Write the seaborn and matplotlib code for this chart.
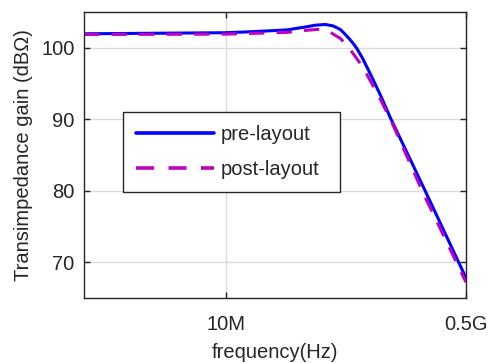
import matplotlib
matplotlib.use("Agg")
import matplotlib.pyplot as plt
import seaborn as sns
import pandas as pd
from matplotlib.lines import Line2D

# frequency in Hz, gain in dB-ohm
pre_freq = [1e6, 10e6, 15.8e6, 27.3e6, 37.9e6, 43e6, 50.7e6, 57.6e6, 64.7e6,
            69e6, 73.7e6, 79e6, 84e6, 93e6, 105e6, 124e6, 146e6, 195e6, 257e6, 500e6]
pre_gain = [101.95, 102.1, 102.25, 102.5, 102.95, 103.15, 103.25, 103.05, 102.55,
            102.0, 101.4, 100.7, 100.0, 98.5, 96.4, 93.4, 90.2, 85.0, 80.0, 67.8]

post_freq = [1e6, 10e6, 27.3e6, 37.9e6, 46.7e6, 55e6, 64.7e6, 70e6, 76.2e6, 88e6,
             100e6, 124e6, 150e6, 250e6, 500e6]
post_gain = [101.85, 101.9, 102.15, 102.45, 102.6, 102.15, 101.3, 100.6, 99.7, 98.0,
             96.2, 92.8, 89.5, 79.6, 67.2]

series_names = ["pre-layout", "post-layout"]
x_ticks = [10e6, 500e6]
x_tick_labels = ["10M", "0.5G"]
y_ticks = [70, 80, 90, 100]

df = pd.concat([
    pd.DataFrame({"freq": pre_freq, "gain": pre_gain, "series": series_names[0]}),
    pd.DataFrame({"freq": post_freq, "gain": post_gain, "series": series_names[1]}),
])

sns.set_theme(style="whitegrid")
plt.rcParams["font.family"] = ["Liberation Sans", "DejaVu Sans"]

BLUE = "#0000FF"
MAG = "#C000C0"
DASH = (5, 4)

fig = plt.figure(figsize=(4.89, 3.63), dpi=100)
ax = fig.add_axes([0.172, 0.179, 0.781, 0.788])

sns.lineplot(data=df, x="freq", y="gain", hue="series", style="series",
             palette={"pre-layout": BLUE, "post-layout": MAG},
             dashes={"pre-layout": "", "post-layout": DASH},
             linewidth=2.2, ax=ax, sort=False, legend=False)

ax.set_xscale("log")
ax.set_xlim(1e6, 5e8)
ax.set_ylim(65, 105)
ax.set_xticks(x_ticks)
ax.set_xticklabels(x_tick_labels)
ax.xaxis.set_minor_locator(matplotlib.ticker.NullLocator())
ax.set_yticks(y_ticks)

ax.grid(True, color="#DCDCDC", linewidth=1.0)
for s in ax.spines.values():
    s.set_visible(True)
    s.set_color("#262626")
    s.set_linewidth(1.0)
ax.tick_params(direction="in", length=4, width=1.0, colors="#262626",
               labelcolor="#262626", labelsize=14.5, top=True, right=True,
               bottom=True, left=True)
ax.tick_params(axis="x", pad=12)
ax.tick_params(axis="y", pad=7)
ax.set_facecolor("white")

ax.set_xlabel("frequency(Hz)", fontsize=14.5, color="#262626", labelpad=6.5)
ax.set_ylabel("Transimpedance gain (dB\u03A9)", fontsize=14.5, color="#262626", labelpad=6)

handles = [Line2D([], [], color=BLUE, lw=2.6),
           Line2D([], [], color=MAG, lw=2.6, linestyle=(0, DASH))]
leg = ax.legend(handles, series_names, loc="lower left",
                bbox_to_anchor=(0.102, 0.371, 0.568, 0.286), mode="expand",
                fontsize=14.5, handlelength=3.85, labelspacing=0.8, borderpad=0.65,
                handletextpad=0.35, frameon=True, fancybox=False, framealpha=1,
                borderaxespad=0)
leg.get_frame().set_edgecolor("#262626")
leg.get_frame().set_linewidth(1.0)

fig.savefig("out.png", dpi=100, facecolor="white")
